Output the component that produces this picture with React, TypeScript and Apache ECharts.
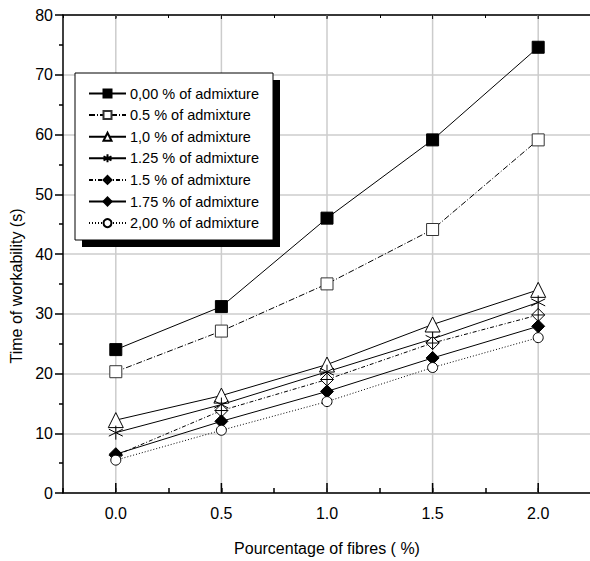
import React, { useEffect, useRef } from "react";
import * as echarts from "echarts";

const xValues = [0, 0.5, 1.0, 1.5, 2.0];
const xMajorTicks = [0, 0.5, 1.0, 1.5, 2.0];
const yTicks = [0, 10, 20, 30, 40, 50, 60, 70, 80];

const seriesNames = [
  "0,00 % of admixture",
  "0.5 % of admixture",
  "1,0 % of admixture",
  "1.25 % of admixture",
  "1.5 % of admixture",
  "1.75 % of admixture",
  "2,00 % of admixture",
];

const s000 = [24.0, 31.2, 46.0, 59.1, 74.6];
const s050 = [20.3, 27.1, 35.0, 44.1, 59.1];
const s100 = [12.2, 16.3, 21.5, 28.2, 34.0];
const s125 = [10.1, 14.8, 20.3, 25.8, 31.9];
const s150 = [6.3, 13.8, 19.0, 25.1, 29.8];
const s175 = [6.5, 12.0, 17.0, 22.6, 27.9];
const s200 = [5.5, 10.5, 15.3, 21.0, 26.0];

const FONT = "'Liberation Sans', Arial, sans-serif";

const STAR = "path://M0,-10 L0,10 M-8.66,-5 L8.66,5 M-8.66,5 L8.66,-5";
const CROSS_DIAMOND = "path://M0,-10 L10,0 L0,10 L-10,0 Z M0,-10 L0,10 M-10,0 L10,0";

const styles = [
  { data: s000, symbol: "rect", size: 12, fill: "#000", border: "#000", dash: "solid" },
  { data: s050, symbol: "rect", size: 12, fill: "#fff", border: "#333", dash: [6, 2, 1, 2] },
  { data: s100, symbol: "triangle", size: 15, fill: "#fff", border: "#000", dash: "solid" },
  { data: s125, symbol: STAR, size: 14, fill: "#000", border: "#000", dash: "solid" },
  { data: s150, symbol: CROSS_DIAMOND, size: 13, fill: "#fff", border: "#000", dash: [4, 2, 1, 2] },
  { data: s175, symbol: "diamond", size: 13, fill: "#000", border: "#000", dash: "solid" },
  { data: s200, symbol: "circle", size: 10, fill: "#fff", border: "#000", dash: [1, 2] },
];

export default function App() {
  const ref = useRef<HTMLDivElement>(null);
  useEffect(() => {
    if (!ref.current) return;
    const chart = echarts.init(ref.current, null, { renderer: "svg" });

    const lineSeries = styles.map((s, i) => ({
      name: seriesNames[i],
      type: "line",
      data: xValues.map((x, j) => [x, s.data[j]]),
      symbol: s.symbol,
      symbolSize: s.size,
      showAllSymbol: true,
      itemStyle: { color: s.fill, borderColor: s.border, borderWidth: 1 },
      lineStyle: { color: "#000", width: 1, type: s.dash },
      z: 3,
    }));

    const option: any = {
      animation: false,
      grid: { left: 63, top: 15, width: 528, height: 478, outerBoundsMode: "none", containLabel: false },
      xAxis: [
        {
          type: "value",
          min: -0.25,
          max: 2.25,
          interval: 0.25,
          position: "bottom",
          axisLine: { show: true, onZero: false, lineStyle: { color: "#000", width: 1.5 } },
          axisTick: { show: true, inside: true, length: 5, lineStyle: { color: "#000", width: 1.5 } },
          splitLine: { show: false },
          axisLabel: {
            color: "#000",
            fontSize: 16,
            fontFamily: FONT,
            margin: 12,
            showMinLabel: true,
            showMaxLabel: true,
            formatter: (v: number) =>
              xMajorTicks.some((t) => Math.abs(t - v) < 1e-6) ? v.toFixed(1) : "",
          },
        },
        {
          type: "value",
          min: -0.25,
          max: 2.25,
          interval: 0.25,
          position: "top",
          axisLine: { show: true, onZero: false, lineStyle: { color: "#000", width: 1.5 } },
          axisTick: { show: true, inside: true, length: 3, lineStyle: { color: "#000", width: 1 } },
          splitLine: { show: false },
          axisLabel: { show: false },
        },
      ],
      yAxis: {
        type: "value",
        min: 0,
        max: 80,
        interval: 10,
        axisLine: { show: true, onZero: false, lineStyle: { color: "#000", width: 1.5 } },
        axisTick: { show: true, inside: false, length: 8, lineStyle: { color: "#000", width: 1.5 } },
        minorTick: { show: true, splitNumber: 2, length: 4, lineStyle: { color: "#000", width: 1.5 } },
        splitLine: { show: true, lineStyle: { color: "#cccccc", width: 1.5 } },
        axisLabel: {
          color: "#000",
          fontSize: 16,
          fontFamily: FONT,
          margin: 10,
          formatter: (v: number) => (yTicks.includes(v) ? String(v) : ""),
        },
      },
      legend: {
        orient: "vertical",
        left: 88,
        top: 86,
        padding: 0,
        itemWidth: 37,
        itemHeight: 10,
        itemGap: 6.6,
        z: 6,
        data: seriesNames,
        textStyle: { color: "#000", fontSize: 14.5, fontFamily: FONT, padding: [0, 0, 0, -1] },
        selectedMode: false,
      },
      graphic: [
        {
          type: "rect",
          shape: { x: 82, y: 80, width: 198, height: 167 },
          style: { fill: "#000" },
          z: 5,
        },
        {
          type: "rect",
          shape: { x: 75, y: 73, width: 198, height: 167 },
          style: { fill: "#fff", stroke: "#000", lineWidth: 1 },
          z: 5,
        },
        {
          type: "text",
          x: 16,
          y: 286,
          rotation: Math.PI / 2,
          style: {
            text: "Time of workability (s)",
            fontSize: 16,
            fontFamily: FONT,
            fill: "#000",
            align: "center",
            verticalAlign: "middle",
          },
        },
        {
          type: "text",
          x: 327,
          y: 548,
          style: {
            text: "Pourcentage of fibres ( %)",
            fontSize: 16,
            fontFamily: FONT,
            fill: "#000",
            align: "center",
            verticalAlign: "middle",
          },
        },
      ],
      series: [
        {
          type: "custom",
          name: "majorGrid",
          silent: true,
          z: 1,
          data: xMajorTicks.map((v) => [v]),
          renderItem: (params: any, api: any) => {
            const x = api.value(0);
            const top = api.coord([x, 80]);
            const bot = api.coord([x, 0]);
            return {
              type: "group",
              children: [
                {
                  type: "line",
                  shape: { x1: top[0], y1: top[1], x2: bot[0], y2: bot[1] },
                  style: { stroke: "#cccccc", lineWidth: 1.5 },
                },
                {
                  type: "line",
                  shape: { x1: bot[0], y1: bot[1], x2: bot[0], y2: bot[1] - 10 },
                  style: { stroke: "#000", lineWidth: 1.5 },
                },
                {
                  type: "line",
                  shape: { x1: top[0], y1: top[1], x2: top[0], y2: top[1] + 4 },
                  style: { stroke: "#000", lineWidth: 1 },
                },
              ],
            };
          },
        },
        ...lineSeries,
      ],
    };
    chart.setOption(option);
    return () => chart.dispose();
  }, []);
  return (
    <div
      ref={ref}
      style={{ position: "absolute", left: 0, top: 0, width: 590, height: 561 }}
    />
  );
}
